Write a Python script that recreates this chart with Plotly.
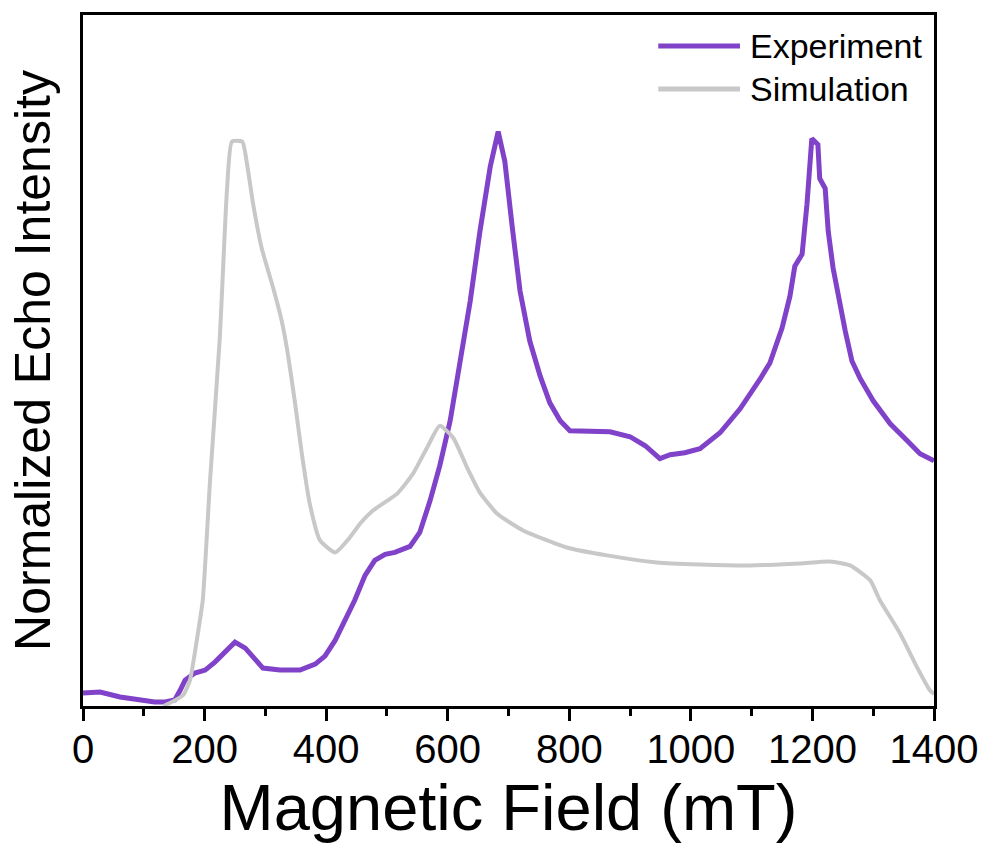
import plotly.graph_objects as go

# Experimental echo-detected field sweep (field in mT, normalized intensity)
exp_field = [0, 28, 61, 94, 118, 135, 151, 160, 168, 184, 201, 217, 234, 250, 267, 283,
             296, 324, 357, 382, 398, 415, 431, 447, 464, 480, 497, 513, 538, 554, 571,
             587, 604, 620, 637, 653, 670, 683, 694, 706, 719, 735, 752, 768, 785, 801,
             834, 867, 900, 925, 949, 966, 990, 1015, 1048, 1081, 1114, 1130, 1150, 1163,
             1171, 1183, 1191, 1199, 1209, 1212, 1221, 1226, 1234, 1242, 1254, 1265, 1278,
             1300, 1328, 1356, 1377, 1400]
exp_intensity = [0.0226, 0.0243, 0.0156, 0.0104, 0.0069, 0.0069, 0.0104, 0.0278, 0.0451,
                 0.0573, 0.0625, 0.0764, 0.0938, 0.1111, 0.1007, 0.0799, 0.0660, 0.0625,
                 0.0625, 0.0729, 0.0868, 0.1146, 0.1493, 0.1840, 0.2274, 0.2535, 0.2639,
                 0.2674, 0.2778, 0.3021, 0.3576, 0.4184, 0.4965, 0.6007, 0.7049, 0.8264,
                 0.9392, 1.0000, 0.9479, 0.8351, 0.7222, 0.6354, 0.5747, 0.5278, 0.4965,
                 0.4792, 0.4774, 0.4774, 0.4688, 0.4531, 0.4306, 0.4375, 0.4410, 0.4479,
                 0.4757, 0.5174, 0.5694, 0.5972, 0.6580, 0.7135, 0.7656, 0.7865, 0.8733,
                 0.9878, 0.9774, 0.9184, 0.9010, 0.8264, 0.7622, 0.7170, 0.6528, 0.6007,
                 0.5712, 0.5313, 0.4913, 0.4618, 0.4392, 0.4271]

# Simulated spectrum
sim_field = [132, 143, 165, 176, 189, 197, 209, 225, 237, 245, 262, 270, 280, 294, 313,
             327, 337, 349, 360, 373, 390, 415, 439, 456, 477, 517, 543, 566, 587, 609,
             632, 653, 681, 724, 796, 862, 944, 1015, 1097, 1180, 1229, 1262, 1295, 1311,
             1344, 1372, 1393, 1400]
sim_intensity = [0.0, 0.0052, 0.0191, 0.0451, 0.1267, 0.1840, 0.3924, 0.6406, 0.9010,
                 0.9826, 0.9826, 0.9427, 0.8733, 0.7969, 0.7274, 0.6701, 0.6128, 0.5260,
                 0.4392, 0.3524, 0.2882, 0.2674, 0.2934, 0.3177, 0.3403, 0.3698, 0.4045,
                 0.4497, 0.4878, 0.4670, 0.4149, 0.3715, 0.3351, 0.3056, 0.2760, 0.2622,
                 0.2500, 0.2465, 0.2448, 0.2483, 0.2517, 0.2448, 0.2188, 0.1840, 0.1267,
                 0.0677, 0.0278, 0.0208]

x_ticks = [0, 200, 400, 600, 800, 1000, 1200, 1400]
series_names = ["Experiment", "Simulation"]

FONT = "Arial, Liberation Sans, sans-serif"
PURPLE = "rgb(128,66,200)"
GREY = "rgb(200,200,200)"
colors = [PURPLE, GREY]

fig = go.Figure()
fig.add_trace(go.Scatter(x=exp_field, y=exp_intensity, mode="lines", name=series_names[0],
                         line=dict(color=PURPLE, width=5)))
fig.add_trace(go.Scatter(x=sim_field, y=sim_intensity, mode="lines", name=series_names[1],
                         line=dict(color=GREY, width=4, shape="spline", smoothing=0.5)))

# Legend drawn in paper coordinates: long line sample followed by label
legend_y = [0.955, 0.893]
for name, col, ly in zip(series_names, colors, legend_y):
    fig.add_shape(type="line", xref="paper", yref="paper",
                  x0=0.676, x1=0.772, y0=ly, y1=ly,
                  line=dict(color=col, width=5))
    fig.add_annotation(xref="paper", yref="paper", x=0.781, y=ly,
                       xanchor="left", yanchor="middle", showarrow=False,
                       text=name, font=dict(size=34, family=FONT, color="black"))

fig.update_layout(
    width=992, height=844,
    margin=dict(l=83, r=58, t=13, b=138),
    paper_bgcolor="white", plot_bgcolor="white",
    font=dict(family=FONT, color="black"),
    showlegend=False,
    xaxis=dict(
        range=[0, 1400], tickvals=x_ticks, ticktext=[str(t) for t in x_ticks],
        ticks="outside", ticklen=12, tickwidth=3, tickcolor="black",
        minor=dict(dtick=100, ticks="outside", ticklen=7, tickwidth=3, tickcolor="black"),
        showline=True, linewidth=3, linecolor="black", mirror=True,
        showgrid=False, zeroline=False,
        ticklabelstandoff=-6,
        tickfont=dict(size=40, family=FONT, color="black"),
        title=dict(text="Magnetic Field (mT)", font=dict(size=65, family=FONT, color="black"),
                   standoff=8),
    ),
    yaxis=dict(
        range=[0, 1.203], showticklabels=False, ticks="",
        showline=True, linewidth=3, linecolor="black", mirror=True,
        showgrid=False, zeroline=False,
        title=dict(text="Normalized Echo Intensity",
                   font=dict(size=50, family=FONT, color="black"), standoff=14),
    ),
)

fig.write_html("out.html")
